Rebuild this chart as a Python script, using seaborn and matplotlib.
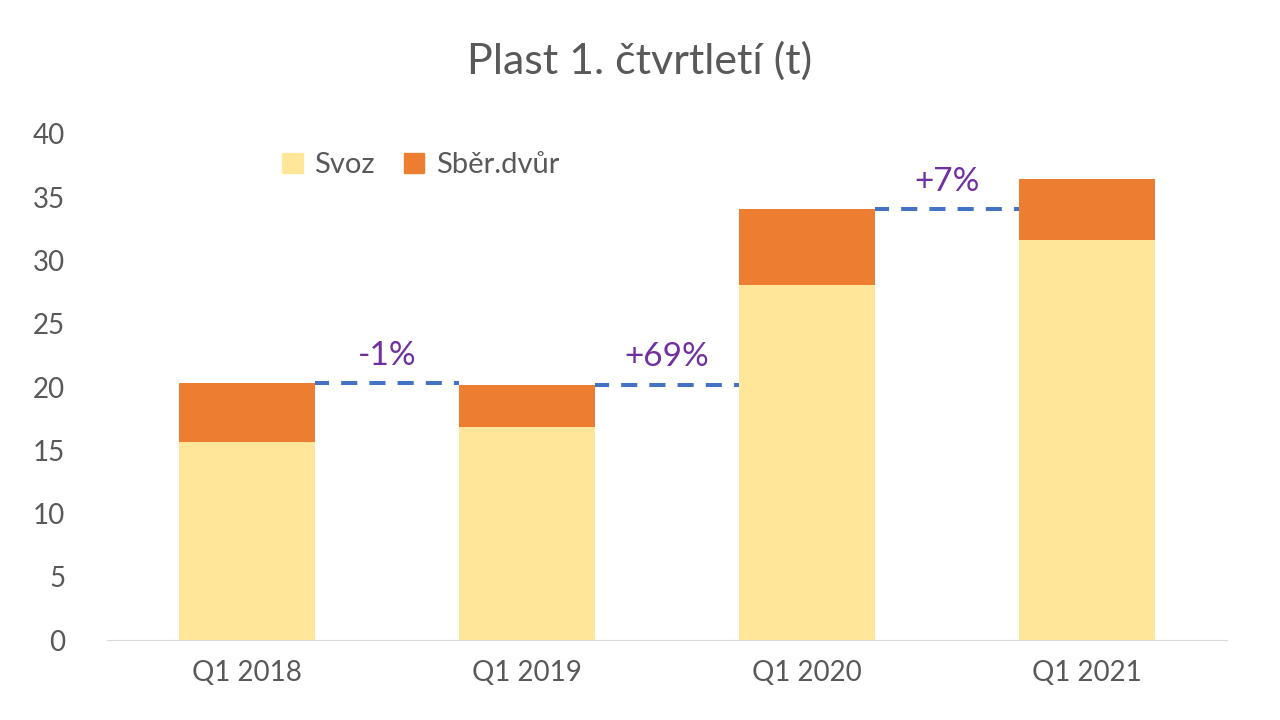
import matplotlib
matplotlib.use("Agg")
import matplotlib.pyplot as plt
import seaborn as sns
import pandas as pd
from matplotlib.patches import Patch

# Data
quarters = ["Q1 2018", "Q1 2019", "Q1 2020", "Q1 2021"]
svoz = [15.65, 16.85, 28.05, 31.6]
sber_dvur = [4.65, 3.3, 6.0, 4.85]
changes = ["-1%", "+69%", "+7%"]

totals = [a + b for a, b in zip(svoz, sber_dvur)]
data = pd.DataFrame({"quarter": quarters, "svoz": svoz, "total": totals})

sns.set_style("white")
plt.rcParams["font.family"] = ["Lato", "DejaVu Sans"]

text_color = "#595959"
yellow = "#FFE699"
orange = "#ED7D31"
bar_w = 0.485

fig = plt.figure(figsize=(12.8, 7.2), dpi=100)
ax = fig.add_axes([0.0836, 0.111, 0.875, 0.703])

# stacked bars: total in orange, Svoz drawn over it
sns.barplot(data=data, x="quarter", y="total", color=orange, width=bar_w,
            saturation=1, linewidth=0, ax=ax)
sns.barplot(data=data, x="quarter", y="svoz", color=yellow, width=bar_w,
            saturation=1, linewidth=0, ax=ax)

# dashed connectors and percentage changes
for i, lbl in enumerate(changes):
    ax.plot([i + bar_w / 2, i + 1 - bar_w / 2], [totals[i], totals[i]],
            color="#4472C4", lw=2.9, ls=(0.5, (4, 3)))
    ax.text(i + 0.5, totals[i] + 1.0, lbl, ha="center", va="bottom",
            fontsize=24, color="#7030A0")

ax.set_ylim(0, 40)
ax.set_xlim(-0.5, 3.5)
ax.set_yticks(range(0, 41, 5))
ax.set_xlabel("")
ax.set_ylabel("")
ax.tick_params(axis="both", colors=text_color, labelsize=20, length=0)
ax.tick_params(axis="x", pad=14)
ax.tick_params(axis="y", pad=30)
for s in ["top", "right", "left"]:
    ax.spines[s].set_visible(False)
ax.spines["bottom"].set_color("#D9D9D9")

handles = [Patch(color=yellow, label="Svoz"), Patch(color=orange, label="Sběr.dvůr")]
ax.legend(handles=handles, loc="upper left", bbox_to_anchor=(0.133, 1.016), ncol=2,
          frameon=False, fontsize=21, handlelength=0.7, handleheight=0.7,
          columnspacing=1.0, handletextpad=0.4, labelcolor=text_color)

fig.suptitle("Plast 1. čtvrtletí (t)", y=0.943, fontsize=31, color=text_color)

fig.savefig("out.png", dpi=100)
